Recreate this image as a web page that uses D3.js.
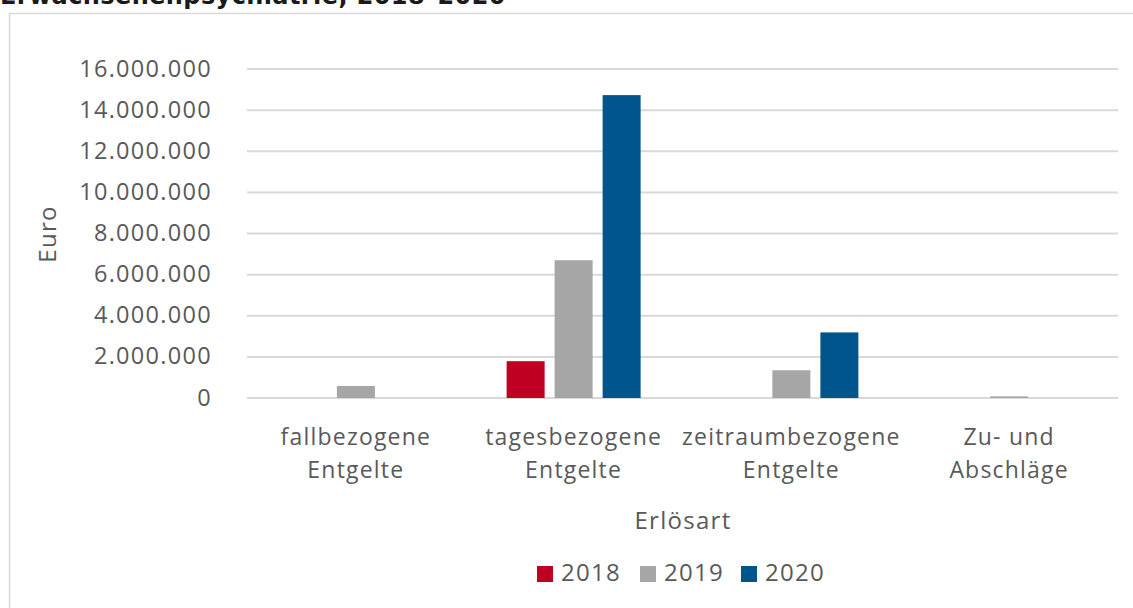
<!DOCTYPE html>
<html>
<head>
<meta charset="utf-8">
<script src="https://cdn.jsdelivr.net/npm/d3@7"></script>
<style>
  body { margin: 0; background: #fff; }
  svg { display: block; }
  text { font-family: "Open Sans", "Noto Sans", sans-serif; fill: #595959; }
</style>
</head>
<body>
<script>
// chart data
const categories = ["fallbezogene Entgelte", "tagesbezogene Entgelte", "zeitraumbezogene Entgelte", "Zu- und Abschläge"];
const categoryLines = [["fallbezogene", "Entgelte"], ["tagesbezogene", "Entgelte"], ["zeitraumbezogene", "Entgelte"], ["Zu- und", "Abschläge"]];
const years = ["2018", "2019", "2020"];
const values2018 = [0, 1790000, 0, 0];
const values2019 = [585000, 6700000, 1350000, 80000];
const values2020 = [0, 14730000, 3190000, 0];
const yTicks = [0, 2000000, 4000000, 6000000, 8000000, 10000000, 12000000, 14000000, 16000000];
const colors = ["#c00022", "#a6a6a6", "#00558c"];

const width = 1133, height = 608;
const plotLeft = 247, plotRight = 1118, plotTop = 69, plotBottom = 398;

const svg = d3.select("body").append("svg")
  .attr("width", width)
  .attr("height", height);

// title, cut by the top of the picture
svg.append("text")
  .attr("x", 0)
  .attr("y", 4)
  .style("font-family", "'DejaVu Sans', sans-serif")
  .style("font-weight", "bold")
  .style("font-size", "24px")
  .style("letter-spacing", "0.4px")
  .style("fill", "#1a1a1a")
  .text("Erwachsenenpsychiatrie, 2018–2020");

// frame
svg.append("rect")
  .attr("x", 9.5).attr("y", 13.5)
  .attr("width", 1200).attr("height", 700)
  .attr("fill", "none")
  .attr("stroke", "#d9d9d9")
  .attr("stroke-width", 1.5);

const locale = d3.formatLocale({ decimal: ",", thousands: ".", grouping: [3], currency: ["", " €"] });
const fmt = locale.format(",d");

let xScale = d3.scaleBand()
  .domain(categories)
  .range([plotLeft, plotRight]);

let inner = d3.scaleBand()
  .domain(years)
  .range([-72, 72])
  .paddingInner(0.2083)
  .paddingOuter(0.10415);

let yScale = d3.scaleLinear()
  .domain([0, 16000000])
  .range([plotBottom, plotTop]);

// gridlines
svg.append("g")
  .selectAll("line")
  .data(yTicks)
  .enter()
  .append("line")
  .attr("x1", plotLeft).attr("x2", plotRight)
  .attr("y1", d => yScale(d)).attr("y2", d => yScale(d))
  .attr("stroke", "#d9d9d9")
  .attr("stroke-width", 2);

// y axis tick labels
const yAxis = d3.axisLeft(yScale)
  .tickValues(yTicks)
  .tickFormat(fmt)
  .tickSize(0)
  .tickPadding(0);
const yg = svg.append("g")
  .attr("transform", "translate(212,0)")
  .call(yAxis);
yg.select(".domain").remove();
yg.selectAll("text")
  .attr("dy", "0.3em")
  .style("font-size", "23.5px")
  .style("letter-spacing", "1.3px")
  .style("fill", "#595959")
  .style("font-family", "'Open Sans', sans-serif");

// bars
const series = [values2018, values2019, values2020];
series.forEach((vals, i) => {
  svg.append("g")
    .selectAll("rect")
    .data(vals.map((v, j) => ({ cat: categories[j], v: v })))
    .enter()
    .append("rect")
    .attr("x", d => xScale(d.cat) + xScale.bandwidth() / 2 + inner(years[i]))
    .attr("width", inner.bandwidth())
    .attr("y", d => yScale(d.v))
    .attr("height", d => plotBottom - yScale(d.v))
    .attr("fill", colors[i]);
});

// category labels
const xg = svg.append("g");
categories.forEach((c, j) => {
  const cx = xScale(c) + xScale.bandwidth() / 2;
  const t = xg.append("text")
    .attr("x", cx)
    .attr("y", 445)
    .attr("text-anchor", "middle")
    .style("font-size", "23px")
    .style("letter-spacing", "1.2px");
  categoryLines[j].forEach((line, k) => {
    t.append("tspan")
      .attr("x", cx)
      .attr("dy", k === 0 ? 0 : 33)
      .text(line);
  });
});

// axis titles
svg.append("text")
  .attr("x", 683)
  .attr("y", 529)
  .attr("text-anchor", "middle")
  .style("font-size", "24px")
  .style("letter-spacing", "1.3px")
  .text("Erlösart");

svg.append("text")
  .attr("transform", "translate(56,234) rotate(-90)")
  .attr("text-anchor", "middle")
  .style("font-size", "24px")
  .style("letter-spacing", "1.3px")
  .text("Euro");

// legend
const legendX = [537, 640, 741];
years.forEach((y, i) => {
  svg.append("rect")
    .attr("x", legendX[i]).attr("y", 566)
    .attr("width", 16).attr("height", 16)
    .attr("fill", colors[i]);
  svg.append("text")
    .attr("x", legendX[i] + 24)
    .attr("y", 581)
    .style("font-size", "24px")
    .style("letter-spacing", "1.3px")
    .text(y);
});
</script>
</body>
</html>
